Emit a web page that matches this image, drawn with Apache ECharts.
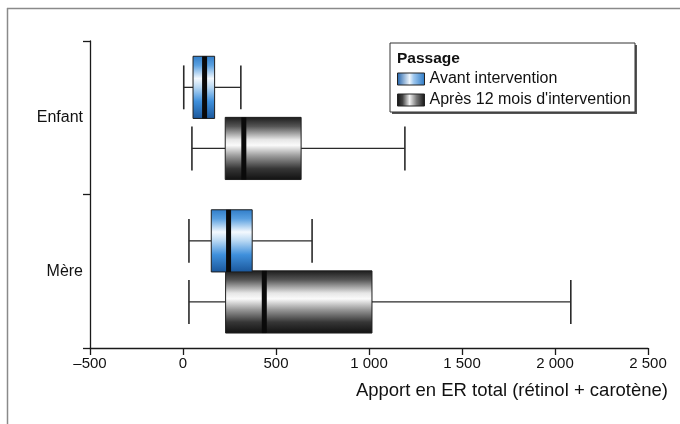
<!DOCTYPE html>
<html>
<head>
<meta charset="utf-8">
<script src="https://cdn.jsdelivr.net/npm/echarts@6/dist/echarts.min.js"></script>
<style>
  html, body { margin: 0; padding: 0; background: #fff; }
  #chart { width: 680px; height: 424px; }
</style>
</head>
<body>
<div id="chart"></div>
<script>
// ---- data ----
const categories = ['Enfant', 'Mère'];
const seriesNames = ['Avant intervention', 'Après 12 mois d\'intervention'];
// [min, Q1, median, Q3, max] per category
const avantValues = [
  [4, 54, 116, 170, 311],
  [32, 152, 245, 372, 694]
];
const apresValues = [
  [48, 227, 327, 635, 1193],
  [32, 229, 437, 1016, 2085]
];
const xTickValues = [-500, 0, 500, 1000, 1500, 2000, 2500];
const xTickLabels = ['–500', '0', '500', '1 000', '1 500', '2 000', '2 500'];
const xAxisTitle = 'Apport en ER total (rétinol + carotène)';
const legendTitle = 'Passage';

const FONT = '"Liberation Sans", Arial, Helvetica, sans-serif';
const G = echarts.graphic;

const blueBoxFill = new G.LinearGradient(0, 0, 0, 1, [
  { offset: 0, color: '#2f7cc8' },
  { offset: 0.15, color: '#5aa0e0' },
  { offset: 0.36, color: '#f4f9fe' },
  { offset: 0.5, color: '#b8d8f3' },
  { offset: 0.72, color: '#3f90dc' },
  { offset: 1, color: '#1a569a' }
]);
const grayBoxFill = new G.LinearGradient(0, 0, 0, 1, [
  { offset: 0, color: '#1a1a1a' },
  { offset: 0.15, color: '#555' },
  { offset: 0.36, color: '#e6e6e6' },
  { offset: 0.45, color: '#fafafa' },
  { offset: 0.62, color: '#999' },
  { offset: 0.82, color: '#363636' },
  { offset: 1, color: '#111' }
]);
const blueIcon = new G.LinearGradient(0, 0, 1, 0, [
  { offset: 0, color: '#1d5fa8' },
  { offset: 0.45, color: '#eef6fd' },
  { offset: 0.6, color: '#9cc6ee' },
  { offset: 1, color: '#2a78c4' }
]);
const grayIcon = new G.LinearGradient(0, 0, 1, 0, [
  { offset: 0, color: '#111' },
  { offset: 0.2, color: '#444' },
  { offset: 0.45, color: '#f2f2f2' },
  { offset: 0.7, color: '#777' },
  { offset: 1, color: '#111' }
]);

function makeData(values) {
  return values.map((v, i) => [i].concat(v));
}

function makeRender(offsetFrac, fill) {
  return function (params, api) {
    const cat = api.value(0);
    const pMin = api.coord([api.value(1), cat]);
    const pQ1 = api.coord([api.value(2), cat]);
    const pMed = api.coord([api.value(3), cat]);
    const pQ3 = api.coord([api.value(4), cat]);
    const pMax = api.coord([api.value(5), cat]);
    const band = api.size([0, 1])[1];
    const cy = pMin[1] + offsetFrac * band;
    const bh = band * 0.405;
    const ch = band * 0.286;
    const lineStyle = { stroke: '#2a2a2a', lineWidth: 1.3, fill: null };
    return {
      type: 'group',
      children: [
        { type: 'line', shape: { x1: pMin[0], y1: cy, x2: pQ1[0], y2: cy }, style: lineStyle },
        { type: 'line', shape: { x1: pQ3[0], y1: cy, x2: pMax[0], y2: cy }, style: lineStyle },
        { type: 'line', shape: { x1: pMin[0], y1: cy - ch / 2, x2: pMin[0], y2: cy + ch / 2 }, style: { stroke: '#2a2a2a', lineWidth: 1.6 } },
        { type: 'line', shape: { x1: pMax[0], y1: cy - ch / 2, x2: pMax[0], y2: cy + ch / 2 }, style: { stroke: '#2a2a2a', lineWidth: 1.6 } },
        { type: 'rect', shape: { x: pQ1[0], y: cy - bh / 2, width: pQ3[0] - pQ1[0], height: bh },
          style: { fill: fill, stroke: '#1e1e1e', lineWidth: 1 } },
        { type: 'line', shape: { x1: pMed[0], y1: cy - bh / 2, x2: pMed[0], y2: cy + bh / 2 },
          style: { stroke: '#0a0a0a', lineWidth: 5 } }
      ]
    };
  };
}

const chart = echarts.init(document.getElementById('chart'), null, { renderer: 'canvas' });
chart.setOption({
  animation: false,
  backgroundColor: '#fff',
  textStyle: { fontFamily: FONT },
  grid: { left: 90, right: 32, top: 41, bottom: 76 },
  xAxis: {
    type: 'value',
    min: -500, max: 2500, interval: 500,
    splitLine: { show: false },
    axisLine: { show: true, onZero: false, lineStyle: { color: '#1a1a1a', width: 1.3 } },
    axisTick: { show: true, length: 7, lineStyle: { color: '#1a1a1a', width: 1.3 } },
    axisLabel: {
      margin: 8, fontSize: 15, color: '#111', fontFamily: FONT,
      formatter: function (v) { const i = xTickValues.indexOf(v); return i >= 0 ? xTickLabels[i] : ''; }
    },
    name: xAxisTitle,
    nameLocation: 'end',
    nameGap: 20,
    nameTextStyle: { fontSize: 18.5, color: '#111', fontFamily: FONT, align: 'right', verticalAlign: 'top', padding: [33, 0, 0, 0] }
  },
  yAxis: {
    type: 'category',
    data: categories,
    inverse: true,
    axisLine: { show: true, onZero: false, lineStyle: { color: '#1a1a1a', width: 1.3 } },
    axisTick: { show: true, length: 7, lineStyle: { color: '#1a1a1a', width: 1.3 } },
    axisLabel: { margin: 7, fontSize: 16, color: '#111', fontFamily: FONT },
    splitLine: { show: false }
  },
  legend: {
    orient: 'vertical',
    left: 397, top: 71,
    padding: 0,
    itemWidth: 27, itemHeight: 12, itemGap: 5,
    icon: 'rect',
    textStyle: { fontSize: 16, lineHeight: 16, color: '#111', fontFamily: FONT },
    data: [
      { name: seriesNames[0], itemStyle: { color: blueIcon, borderColor: '#222', borderWidth: 1 } },
      { name: seriesNames[1], itemStyle: { color: grayIcon, borderColor: '#222', borderWidth: 1 } }
    ],
    z: 10
  },
  graphic: [
    { type: 'line', shape: { x1: 7, y1: 8.5, x2: 680, y2: 8.5 }, style: { stroke: '#8a8a8a', lineWidth: 1.5 }, z: 0 },
    { type: 'line', shape: { x1: 7.5, y1: 8, x2: 7.5, y2: 424 }, style: { stroke: '#8a8a8a', lineWidth: 1.5 }, z: 0 },
    { type: 'rect', shape: { x: 392, y: 45, width: 245, height: 69 }, style: { fill: '#555' }, z: 5 },
    { type: 'rect', shape: { x: 390, y: 43, width: 245, height: 69 }, style: { fill: '#fff', stroke: '#333', lineWidth: 1 }, z: 6 },
    { type: 'text', x: 397, y: 59, style: { text: legendTitle, font: 'bold 15.5px ' + FONT, fill: '#111', textVerticalAlign: 'middle', verticalAlign: 'middle' }, z: 7 }
  ],
  series: [
    {
      name: seriesNames[0], type: 'custom',
      itemStyle: { color: '#3a86d0' },
      renderItem: makeRender(-0.198, blueBoxFill),
      encode: { x: [1, 2, 3, 4, 5], y: 0 },
      data: makeData(avantValues),
      z: 3
    },
    {
      name: seriesNames[1], type: 'custom',
      itemStyle: { color: '#555' },
      renderItem: makeRender(0.2, grayBoxFill),
      encode: { x: [1, 2, 3, 4, 5], y: 0 },
      data: makeData(apresValues),
      z: 2
    }
  ]
});
</script>
</body>
</html>
